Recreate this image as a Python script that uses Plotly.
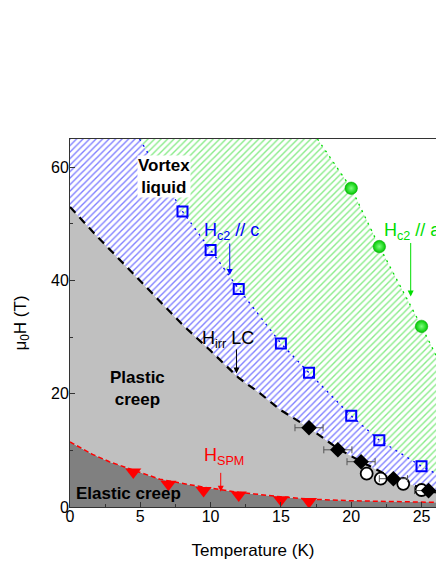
import plotly.graph_objects as go

# ---------------- data ----------------
hc2c_T = [8, 10, 12, 15, 17, 20, 22, 25]
hc2c_H = [52.2, 45.4, 38.5, 28.9, 23.7, 16.1, 11.8, 7.2]

hc2a_T = [20, 22, 25]
hc2a_H = [56.3, 46.0, 31.9]

hirr_T = [17.0, 19.05, 20.7, 23.0, 25.5]
hirr_H = [14.0, 10.1, 8.0, 5.0, 2.9]
hirr_err = [1.0, 1.0, 1.0, 1.0, 1.0]

open_T = [21.1, 22.1, 23.7, 25.0]
open_H = [5.9, 5.0, 4.1, 3.0]

hspm_T = [4.5, 7.0, 9.5, 12.0, 15.0, 17.0]
hspm_H = [6.2, 4.0, 2.9, 2.1, 1.3, 0.95]

# boundary curves
c2c_curve_T = [4.95, 8, 10, 12, 15, 17, 20, 22, 25, 26.5]
c2c_curve_H = [65, 52.2, 45.4, 38.5, 28.9, 23.7, 16.1, 11.8, 7.2, 5.3]

c2a_curve_T = [17.6, 20, 22, 25, 26.5]
c2a_curve_H = [65, 56.3, 46.0, 31.9, 24.5]

irr_curve_T = [0, 2, 4, 6, 8, 10, 12, 13.5, 15, 17, 19, 20.7, 23, 25.5, 26.5]
irr_curve_H = [53, 47.6, 42.5, 37.3, 32.2, 27.6, 22.8, 20.1, 17.1, 14.0, 10.4, 8.0, 5.1, 2.9, 2.3]

spm_curve_T = [0, 1.6, 2.8, 4.5, 6.4, 9.5, 12, 15, 17, 20, 23, 26.5]
spm_curve_H = [11.5, 9.3, 8.0, 6.6, 4.9, 3.5, 2.6, 1.8, 1.4, 1.1, 0.9, 0.8]

x_ticks = [0, 5, 10, 15, 20, 25]
y_ticks = [0, 20, 40, 60]

FONT = "Arial, Liberation Sans, sans-serif"
BLUE = "#0000ff"
GREEN = "#00dd00"
RED = "#ff0000"

fig = go.Figure()

# ---- region fills ----
fig.add_trace(go.Scatter(
    x=spm_curve_T + [26.5, 0], y=spm_curve_H + [0, 0],
    fill="toself", fillcolor="#808080", line=dict(width=0), mode="lines",
    hoverinfo="skip", showlegend=False))
fig.add_trace(go.Scatter(
    x=irr_curve_T + spm_curve_T[::-1], y=irr_curve_H + spm_curve_H[::-1],
    fill="toself", fillcolor="#c0c0c0", line=dict(width=0), mode="lines",
    hoverinfo="skip", showlegend=False))
fig.add_trace(go.Scatter(
    x=c2c_curve_T + irr_curve_T[::-1] + [0], y=c2c_curve_H + irr_curve_H[::-1] + [65],
    fill="toself", fillcolor="white",
    fillpattern=dict(shape="/", fgcolor="#0000ff", bgcolor="white", size=4.6, solidity=0.3),
    line=dict(width=0), mode="lines", hoverinfo="skip", showlegend=False))
fig.add_trace(go.Scatter(
    x=c2a_curve_T + c2c_curve_T[::-1], y=c2a_curve_H + c2c_curve_H[::-1],
    fill="toself", fillcolor="white",
    fillpattern=dict(shape="/", fgcolor="#11d811", bgcolor="white", size=4.6, solidity=0.3),
    line=dict(width=0), mode="lines", hoverinfo="skip", showlegend=False))

# ---- boundary lines ----
fig.add_trace(go.Scatter(x=spm_curve_T, y=spm_curve_H, mode="lines",
                         line=dict(color=RED, width=1.5, dash="5px,3px"),
                         hoverinfo="skip", showlegend=False))
fig.add_trace(go.Scatter(x=irr_curve_T, y=irr_curve_H, mode="lines",
                         line=dict(color="black", width=2.2, dash="8px,6px"),
                         hoverinfo="skip", showlegend=False))
fig.add_trace(go.Scatter(x=c2c_curve_T, y=c2c_curve_H, mode="lines",
                         line=dict(color=BLUE, width=1.3, dash="2px,5px"),
                         hoverinfo="skip", showlegend=False))
fig.add_trace(go.Scatter(x=c2a_curve_T, y=c2a_curve_H, mode="lines",
                         line=dict(color=GREEN, width=1.3, dash="2px,5px"),
                         hoverinfo="skip", showlegend=False))

# ---- markers ----
fig.add_trace(go.Scatter(x=hspm_T, y=hspm_H, mode="markers",
                         marker=dict(symbol="triangle-down", size=14, color=RED,
                                     line=dict(width=0)),
                         showlegend=False))
fig.add_trace(go.Scatter(x=hc2c_T, y=hc2c_H, mode="markers",
                         marker=dict(symbol="square-open", size=10, color=BLUE,
                                     line=dict(width=2, color=BLUE)),
                         showlegend=False))
fig.add_trace(go.Scatter(x=hc2a_T, y=hc2a_H, mode="markers",
                         marker=dict(symbol="circle", size=12.5, color="#00c800",
                                     gradient=dict(type="radial", color="#7dff7d"),
                                     line=dict(width=0.5, color="#00a000")),
                         showlegend=False))
fig.add_trace(go.Scatter(x=open_T, y=open_H, mode="markers",
                         marker=dict(symbol="circle", size=12, color="white",
                                     line=dict(width=1.8, color="black")),
                         showlegend=False))
fig.add_trace(go.Scatter(x=hirr_T, y=hirr_H, mode="markers",
                         error_x=dict(type="data", array=hirr_err, color="#555555",
                                      thickness=1, width=3.5),
                         marker=dict(symbol="diamond", size=12, color="black",
                                     line=dict(width=0)),
                         showlegend=False))

# ---- annotations ----
ann = []
ann.append(dict(x=6.66, y=58.4, text="<b>Vortex<br>liquid</b>", showarrow=False,
                font=dict(family=FONT, size=17, color="black"),
                bgcolor="white", borderpad=0, align="center"))
ann.append(dict(x=4.8, y=21.0, text="<b>Plastic<br>creep</b>", showarrow=False,
                font=dict(family=FONT, size=17, color="black"), align="center"))
ann.append(dict(x=0.3, y=2.3, text="<b>Elastic creep</b>", showarrow=False,
                xanchor="left", font=dict(family=FONT, size=17, color="black")))
ann.append(dict(x=9.4, y=48.6, text="H<sub>c2</sub> // c", showarrow=False,
                xanchor="left", font=dict(family=FONT, size=18, color=BLUE)))
ann.append(dict(x=22.2, y=48.6, text="H<sub>c2</sub> // a", showarrow=False,
                xanchor="left", font=dict(family=FONT, size=18, color=GREEN)))
ann.append(dict(x=9.25, y=29.6, text="H<sub>irr</sub> LC", showarrow=False,
                xanchor="left", font=dict(family=FONT, size=18, color="black")))
ann.append(dict(x=9.4, y=9.0, text="H<sub>SPM</sub>", showarrow=False,
                xanchor="left", font=dict(family=FONT, size=18, color=RED)))
for (xt, yt, yh, col) in [(11.36, 46.8, 41.0, BLUE), (24.23, 46.9, 37.2, GREEN),
                          (11.84, 28.1, 23.6, "black"), (10.72, 6.3, 2.7, RED)]:
    ann.append(dict(x=xt, y=yh, ax=xt, ay=yt, xref="x", yref="y", axref="x", ayref="y",
                    text="", showarrow=True, arrowhead=2, arrowsize=1.2, arrowwidth=1,
                    arrowcolor=col))

fig.update_layout(
    width=436, height=564,
    margin=dict(l=70, r=0, t=139, b=57),
    paper_bgcolor="white", plot_bgcolor="white",
    font=dict(family=FONT, size=16, color="black"),
    annotations=ann,
    showlegend=False,
)
fig.update_xaxes(
    range=[0, 26.03], showgrid=False, zeroline=False,
    showline=True, linecolor="#333333", linewidth=1, mirror=True,
    ticks="inside", ticklen=5, tickcolor="#333333",
    tickvals=x_ticks, ticktext=[str(v) for v in x_ticks],
    tickfont=dict(family=FONT, size=16, color="black"),
    ticklabelstandoff=-5,
    minor=dict(ticks="inside", ticklen=3, dtick=2.5, tick0=0, tickcolor="#333333"),
    title=dict(text="Temperature (K)", font=dict(family=FONT, size=17, color="black"),
               standoff=19),
)
fig.update_yaxes(
    range=[0, 65], showgrid=False, zeroline=False,
    showline=True, linecolor="#333333", linewidth=1,
    ticks="inside", ticklen=5, tickcolor="#333333",
    tickvals=y_ticks, ticktext=[str(v) for v in y_ticks],
    tickfont=dict(family=FONT, size=16, color="black"),
    ticklabelstandoff=-3,
    minor=dict(ticks="inside", ticklen=3, dtick=10, tick0=0, tickcolor="#333333"),
    title=dict(text="μ<sub>0</sub>H (T)", font=dict(family=FONT, size=17, color="black"),
               standoff=20),
)

# remove the default page margin so the 436x564 figure fills the window exactly
fig.write_html("out.html",
               config={"displayModeBar": False},
               post_script="document.body.style.margin='0';document.body.style.overflow='hidden';")
